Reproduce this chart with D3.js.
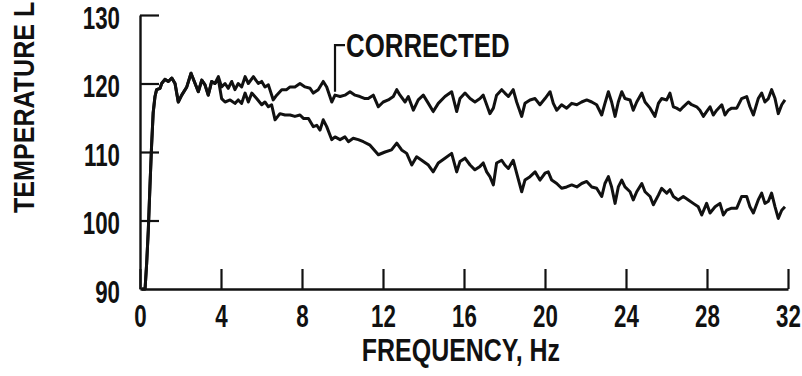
<!DOCTYPE html>
<html>
<head>
<meta charset="utf-8">
<script src="https://cdn.jsdelivr.net/npm/d3@7"></script>
<style>
  html, body { margin: 0; padding: 0; background: #fff; }
  svg { display: block; }
  text { font-family: "Liberation Sans", Arial, sans-serif; font-weight: bold; fill: #111; }
</style>
</head>
<body>
<svg id="chart" width="802" height="376"></svg>
<script>
// Frequency axis ticks (Hz) and level axis ticks
const xTicks = [0, 4, 8, 12, 16, 20, 24, 28, 32];
const yTicks = [90, 100, 110, 120, 130];

// Uncorrected spectrum: frequency (Hz) and level
const rawFreq = [0.10, 0.25, 0.33, 0.41, 0.49, 0.57, 0.65, 0.74, 0.82, 0.99, 1.07, 1.23, 1.40, 1.57, 1.73, 1.89, 2.06, 2.31, 2.52, 2.72, 2.88, 3.05, 3.21, 3.37, 3.54, 3.70, 3.87,
  4.03, 4.20, 4.45, 4.69, 4.85, 5.02, 5.19, 5.35, 5.52, 5.76, 6.01, 6.17, 6.34, 6.50, 6.67, 6.91, 7.16, 7.41, 7.65, 7.90, 8.07, 8.32, 8.56, 8.73, 8.89, 9.05, 9.22, 9.47, 9.63, 9.88,
  10.12, 10.29, 10.53, 10.78, 11.03, 11.36, 11.77, 12.10, 12.42, 12.68, 12.92, 13.17, 13.42, 13.66, 13.91, 14.24, 14.48, 14.73, 15.06, 15.39, 15.64, 15.80, 16.05, 16.30, 16.54,
  16.79, 16.95, 17.12, 17.28, 17.45, 17.61, 17.86, 18.02, 18.19, 18.43, 18.60, 18.85, 19.01, 19.26, 19.51, 19.75, 20.00, 20.16, 20.33, 20.58, 20.82, 21.07, 21.32, 21.57, 21.81,
  22.06, 22.31, 22.55, 22.80, 22.96, 23.13, 23.29, 23.46, 23.62, 23.79, 23.95, 24.20, 24.36, 24.53, 24.78, 24.94, 25.19, 25.35, 25.60, 25.76, 26.01, 26.17, 26.34, 26.58, 26.83,
  27.08, 27.32, 27.57, 27.74, 27.98, 28.15, 28.40, 28.64, 28.81, 28.97, 29.22, 29.47, 29.71, 29.96, 30.12, 30.29, 30.53, 30.70, 30.86, 31.03, 31.19, 31.36, 31.52, 31.69, 31.85];
const rawLevel = [90.0, 90.0, 93.8, 98.6, 104.9, 110.8, 115.7, 118.1, 119.1, 119.3, 120.0, 120.6, 120.3, 120.8, 120.0, 117.3, 118.3, 119.5, 121.5, 120.0, 118.8, 120.5, 119.8, 118.3, 120.3, 120.0, 120.6,
  117.8, 117.3, 117.6, 117.1, 117.6, 117.1, 118.6, 117.3, 118.6, 117.8, 116.9, 117.3, 116.6, 116.9, 114.7, 115.6, 115.4, 115.4, 115.2, 115.4, 114.9, 114.9, 113.7, 113.9, 113.2, 114.7, 113.7, 111.8, 112.2, 111.8,
  112.2, 111.5, 112.0, 111.8, 111.5, 111.0, 109.6, 110.0, 110.3, 111.3, 110.3, 109.8, 108.1, 109.3, 108.8, 108.1, 107.1, 108.4, 109.1, 109.8, 107.1, 108.6, 109.1, 108.1, 107.4,
  107.9, 108.4, 107.1, 106.4, 105.2, 108.4, 108.8, 108.1, 107.6, 108.8, 106.9, 104.2, 105.9, 106.4, 107.1, 105.9, 106.9, 107.1, 105.9, 105.4, 104.7, 104.9, 105.2, 104.9, 105.4,
  105.7, 104.9, 104.7, 103.5, 105.4, 106.4, 104.9, 102.5, 104.9, 105.9, 104.9, 104.2, 103.0, 104.2, 105.4, 104.2, 103.5, 102.3, 103.7, 104.7, 104.0, 104.5, 103.5, 103.0, 103.5,
  103.0, 102.5, 102.0, 100.8, 102.5, 101.1, 102.0, 102.5, 100.8, 101.5, 101.8, 101.8, 103.5, 103.5, 102.0, 101.1, 103.0, 104.0, 102.5, 102.8, 104.0, 102.0, 100.3, 101.5, 102.0];

// Corrected spectrum: frequency (Hz) and level
const corrFreq = [0.10, 0.25, 0.33, 0.41, 0.49, 0.57, 0.65, 0.74, 0.82, 0.99, 1.07, 1.23, 1.40, 1.57, 1.73, 1.89, 2.06, 2.31, 2.52, 2.72, 2.88, 3.05, 3.21, 3.37, 3.54, 3.70, 3.87,
  4.03, 4.20, 4.36, 4.53, 4.69, 4.85, 5.02, 5.19, 5.35, 5.60, 5.84, 6.01, 6.17, 6.34, 6.58, 6.75, 7.00, 7.24, 7.41, 7.65, 7.90, 8.15, 8.40, 8.56, 8.80, 9.05, 9.22, 9.47, 9.63, 9.88,
  10.12, 10.37, 10.62, 10.86, 11.11, 11.27, 11.52, 11.77, 12.01, 12.26, 12.51, 12.68, 12.84, 13.09, 13.25, 13.50, 13.74, 13.99, 14.24, 14.48, 14.73, 15.06, 15.39, 15.64, 15.80,
  16.05, 16.30, 16.54, 16.79, 16.95, 17.12, 17.28, 17.45, 17.61, 17.86, 18.02, 18.19, 18.43, 18.60, 18.85, 19.01, 19.26, 19.51, 19.75, 20.00, 20.25, 20.41, 20.58, 20.82, 21.07,
  21.32, 21.57, 21.81, 22.06, 22.31, 22.55, 22.80, 22.96, 23.13, 23.29, 23.46, 23.62, 23.79, 23.95, 24.20, 24.36, 24.53, 24.78, 24.94, 25.19, 25.43, 25.60, 25.76, 26.01, 26.17,
  26.34, 26.50, 26.67, 26.83, 27.08, 27.24, 27.49, 27.65, 27.82, 27.98, 28.15, 28.31, 28.48, 28.73, 28.89, 29.05, 29.22, 29.47, 29.71, 29.96, 30.12, 30.29, 30.53, 30.70, 30.86,
  31.03, 31.19, 31.36, 31.52, 31.69, 31.85];
const corrLevel = [90.0, 90.0, 93.8, 98.6, 104.9, 110.8, 115.7, 118.1, 119.1, 119.3, 120.0, 120.6, 120.3, 120.8, 120.0, 117.3, 118.3, 119.5, 121.5, 120.0, 118.8, 120.5, 119.8, 118.3, 120.3, 120.0, 121.0,
  119.5, 120.0, 119.3, 120.3, 119.1, 120.0, 119.5, 121.0, 120.0, 121.0, 120.0, 120.3, 119.5, 119.8, 117.6, 118.3, 119.1, 119.1, 119.5, 119.5, 120.0, 119.5, 119.3, 118.6, 119.1, 120.3, 119.5, 117.3, 118.3, 118.1,
  118.3, 118.8, 118.3, 118.1, 117.8, 117.8, 118.3, 116.6, 117.3, 117.6, 118.1, 119.1, 118.3, 117.3, 118.1, 116.1, 117.6, 118.3, 117.1, 115.9, 117.1, 118.1, 118.8, 115.9, 117.8,
  118.6, 117.8, 117.3, 117.8, 118.3, 116.9, 115.6, 116.4, 118.3, 119.1, 118.6, 118.1, 119.1, 117.3, 115.2, 117.1, 117.6, 117.8, 116.9, 117.8, 118.8, 117.1, 116.1, 116.9, 116.4,
  117.1, 116.9, 117.3, 117.6, 117.3, 116.9, 115.4, 117.1, 118.8, 117.3, 115.2, 117.3, 118.8, 117.8, 117.6, 116.1, 117.3, 118.6, 117.3, 116.4, 115.2, 117.1, 117.8, 117.6, 118.6,
  116.6, 116.4, 116.1, 116.6, 117.3, 116.9, 116.6, 116.1, 115.2, 115.9, 116.6, 115.4, 116.1, 116.9, 115.4, 116.1, 116.4, 116.4, 117.8, 118.1, 116.6, 115.4, 117.8, 118.6, 117.3,
  117.8, 119.1, 117.8, 115.6, 116.9, 117.6];

const svg = d3.select("#chart");

const x = d3.scaleLinear().domain([0, 32]).range([140, 788]);
const y = d3.scaleLinear().domain([90, 130]).range([289, 15]);

// Squeeze text horizontally (condensed lettering) while keeping its anchor point
function narrow(sel, sx) {
  sel.each(function () {
    const t = d3.select(this);
    const tx = +t.attr("x") || 0;
    t.attr("x", tx / sx).attr("transform", `scale(${sx},1)`);
  });
}

// Bottom axis: baseline with inward (upward) ticks
const gx = svg.append("g")
  .attr("transform", `translate(0,${y(90)})`)
  .call(d3.axisBottom(x).tickValues(xTicks).tickSizeInner(-20).tickSizeOuter(0).tickPadding(0).tickFormat(d3.format("d")));

// Left axis: inward (rightward) ticks
const gy = svg.append("g")
  .attr("transform", `translate(${x(0)},0)`)
  .call(d3.axisLeft(y).tickValues(yTicks).tickSizeInner(-19).tickSizeOuter(0).tickPadding(20).tickFormat(d3.format("d")));

[gx, gy].forEach(g => {
  g.select(".domain").attr("stroke", "#111").attr("stroke-width", 2.4);
  g.selectAll(".tick line").attr("stroke", "#111").attr("stroke-width", 2.2);
  g.selectAll(".tick text").style("font-size", "31px").attr("fill", "#111");
});
gx.selectAll(".tick text").attr("y", 38).attr("dy", 0);
gy.selectAll(".tick text").attr("dy", "0.42em");
gy.selectAll(".tick").filter(d => d === 90).select("line").remove();
narrow(gx.selectAll(".tick text"), 0.72);
narrow(gy.selectAll(".tick text"), 0.72);

// Spectrum traces
const line = d3.line().x(d => x(d[0])).y(d => y(d[1]));
const series = [
  d3.zip(rawFreq, rawLevel),
  d3.zip(corrFreq, corrLevel)
];
svg.append("g").selectAll("path")
  .data(series)
  .join("path")
  .attr("d", line)
  .attr("fill", "none")
  .attr("stroke", "#111")
  .attr("stroke-width", 3)
  .attr("stroke-linejoin", "round");

// Label for the corrected trace with its leader
const leaderFreq = 9.63, leaderTop = 125.6, leaderEnd = 118.8;
svg.append("path")
  .attr("d", d3.line()([[x(leaderFreq), y(leaderEnd)], [x(leaderFreq), y(leaderTop)], [x(leaderFreq) + 10, y(leaderTop)]]))
  .attr("fill", "none").attr("stroke", "#111").attr("stroke-width", 2.2);
const corrLabel = svg.append("g").attr("transform", `translate(${x(leaderFreq) + 11},${y(123.8)})`);
corrLabel.append("text")
  .style("font-size", "34px")
  .text("CORRECTED");
narrow(corrLabel.selectAll("text"), 0.76);

// Axis titles
const xTitle = svg.append("g").attr("transform", `translate(${x(15.85)},361)`);
xTitle.append("text")
  .attr("text-anchor", "middle")
  .style("font-size", "32px")
  .text("FREQUENCY, Hz");
narrow(xTitle.selectAll("text"), 0.78);

const yTitle = svg.append("g").attr("transform", "translate(34,213) rotate(-90)");
yTitle.append("text")
  .attr("text-anchor", "start")
  .style("font-size", "29px")
  .text("TEMPERATURE LEVEL, dB");
narrow(yTitle.selectAll("text"), 0.865);
</script>
</body>
</html>
